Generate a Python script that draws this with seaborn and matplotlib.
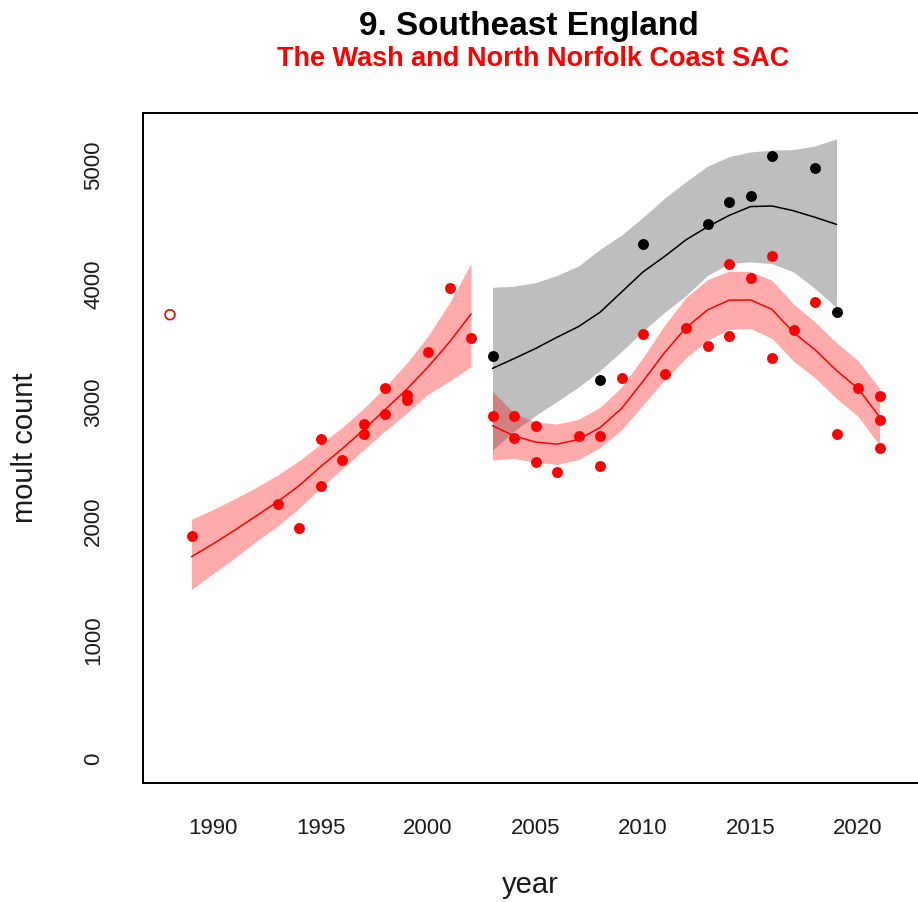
import matplotlib
matplotlib.use("Agg")
import matplotlib.pyplot as plt
import pandas as pd
import seaborn as sns

# Single early count shown as an open symbol
early_year = [1988]
early_count = [3740]

# Moult counts 1989-2002
p1_years = [1989, 1993, 1994, 1995, 1995, 1996, 1997, 1997, 1998, 1998,
            1999, 1999, 2000, 2001, 2002]
p1_counts = [1877, 2146, 1942, 2696, 2298, 2517, 2820, 2736, 3123, 2904,
             3067, 3022, 3426, 3965, 3544]

# Trend and 95% band, 1989-2002
fit1_years = [1989, 1990, 1991, 1992, 1993, 1994, 1995, 1996, 1997, 1998,
              1999, 2000, 2001, 2002]
fit1_mid = [1703, 1810, 1925, 2045, 2165, 2300, 2460, 2610, 2770, 2940,
            3110, 3300, 3510, 3746]
fit1_lo = [1428, 1560, 1690, 1830, 1960, 2110, 2280, 2440, 2600, 2760,
           2910, 3070, 3180, 3302]
fit1_hi = [2018, 2100, 2190, 2285, 2390, 2510, 2650, 2790, 2950, 3130,
           3330, 3560, 3840, 4172]

# Moult counts 2003-2021
p2_years = [2003, 2004, 2004, 2005, 2005, 2006, 2007, 2008, 2008, 2009,
            2010, 2011, 2012, 2013, 2014, 2014, 2015, 2016, 2016, 2017,
            2018, 2019, 2020, 2021, 2021, 2021]
p2_counts = [2887, 2887, 2699, 2803, 2497, 2416, 2719, 2719, 2464, 3207,
             3577, 3238, 3628, 3476, 4164, 3561, 4049, 4234, 3373, 3608,
             3847, 2736, 3123, 3056, 2854, 2615]

# Trend and 95% band, 2003-2021
fit2_years = [2003, 2004, 2005, 2006, 2007, 2008, 2009, 2010, 2011, 2012,
              2013, 2014, 2015, 2016, 2017, 2018, 2019, 2020, 2021]
fit2_mid = [2806, 2720, 2668, 2650, 2690, 2790, 2950, 3180, 3420, 3630,
            3780, 3862, 3864, 3785, 3590, 3445, 3270, 3120, 2880]
fit2_lo = [2516, 2530, 2498, 2480, 2520, 2620, 2770, 2980, 3190, 3375,
           3525, 3617, 3624, 3540, 3350, 3210, 3035, 2885, 2640]
fit2_hi = [3096, 2910, 2838, 2820, 2860, 2960, 3130, 3380, 3650, 3885,
           4035, 4107, 4104, 4030, 3830, 3680, 3505, 3355, 3120]

# Maximum counts (black) with trend and band
max_years = [2003, 2008, 2010, 2013, 2014, 2015, 2016, 2018, 2019]
max_counts = [3392, 3190, 4335, 4503, 4691, 4742, 5079, 4978, 3763]

fit3_years = [2003, 2004, 2005, 2006, 2007, 2008, 2009, 2010, 2011, 2012,
              2013, 2014, 2015, 2016, 2017, 2018, 2019]
fit3_mid = [3288, 3370, 3455, 3550, 3640, 3760, 3930, 4100, 4230, 4370,
            4480, 4575, 4650, 4655, 4615, 4560, 4500]
fit3_lo = [2600, 2760, 2890, 3010, 3130, 3270, 3430, 3600, 3760, 3900,
           4070, 4170, 4185, 4170, 4100, 3960, 3800]
fit3_hi = [3970, 3980, 4010, 4070, 4150, 4290, 4410, 4560, 4720, 4860,
           4990, 5070, 5110, 5125, 5130, 5160, 5220]

x_ticks = [1990, 1995, 2000, 2005, 2010, 2015, 2020]
y_ticks = [0, 1000, 2000, 3000, 4000, 5000]

sns.set_style("white")
plt.rcParams["font.family"] = ["Liberation Sans", "DejaVu Sans"]

W, H = 918, 902
fig = plt.figure(figsize=(W / 100, H / 100), dpi=100)
left_px, right_px, top_px, bottom_px = 143, 921, 113, 783
ax = fig.add_axes([left_px / W, 1 - bottom_px / H,
                   (right_px - left_px) / W, (bottom_px - top_px) / H])

px_per_year = 21.5
ax.set_xlim(1990 + (left_px - 213) / px_per_year,
            1990 + (right_px - 213) / px_per_year)
px_per_unit = 0.1188
ax.set_ylim(-(bottom_px - 759) / px_per_unit, (759 - top_px) / px_per_unit)

f1 = pd.DataFrame({"year": fit1_years, "mid": fit1_mid, "lo": fit1_lo, "hi": fit1_hi})
f2 = pd.DataFrame({"year": fit2_years, "mid": fit2_mid, "lo": fit2_lo, "hi": fit2_hi})
f3 = pd.DataFrame({"year": fit3_years, "mid": fit3_mid, "lo": fit3_lo, "hi": fit3_hi})

# grey band for maximum counts first, red bands blended on top
ax.fill_between(f3["year"], f3["lo"], f3["hi"], color="#BEBEBE", lw=0, zorder=1)
sns.lineplot(data=f3, x="year", y="mid", color="black", lw=1.1,
             estimator=None, sort=False, ax=ax, zorder=3)
ax.fill_between(f1["year"], f1["lo"], f1["hi"], color="red", alpha=0.33, lw=0, zorder=2)
ax.fill_between(f2["year"], f2["lo"], f2["hi"], color="red", alpha=0.33, lw=0, zorder=2)
sns.lineplot(data=f1, x="year", y="mid", color="red", lw=1.1,
             estimator=None, sort=False, ax=ax, zorder=3)
sns.lineplot(data=f2, x="year", y="mid", color="red", lw=1.1,
             estimator=None, sort=False, ax=ax, zorder=3)

sns.scatterplot(x=max_years, y=max_counts, color="black", s=62, linewidth=0,
                ax=ax, zorder=4)
sns.scatterplot(x=p1_years, y=p1_counts, color="red", s=62, linewidth=0,
                ax=ax, zorder=4)
sns.scatterplot(x=p2_years, y=p2_counts, color="red", s=62, linewidth=0,
                ax=ax, zorder=4)
sns.scatterplot(x=early_year, y=early_count, facecolor="none", edgecolor="red",
                s=50, linewidth=1.2, ax=ax, zorder=4)

ax.set_xticks(x_ticks)
ax.set_xticklabels([str(v) for v in x_ticks])
ax.set_yticks(y_ticks)
ax.set_yticklabels([str(v) for v in y_ticks], rotation=90, va="center")
ax.tick_params(axis="both", direction="out", length=11, width=1.2,
               color="black", labelsize=16, labelcolor="#1a1a1a")
ax.tick_params(axis="x", pad=14)
ax.tick_params(axis="y", pad=17)
for s in ax.spines.values():
    s.set_color("black")
    s.set_linewidth(1.4)

ax.set_xlabel("year", fontsize=21, color="#1a1a1a", va="center")
ax.xaxis.set_label_coords((530 - left_px) / (right_px - left_px),
                          (bottom_px - 885) / (bottom_px - top_px))
ax.set_ylabel("moult count", fontsize=21, color="#1a1a1a", va="center")
ax.yaxis.set_label_coords((25 - left_px) / (right_px - left_px), 0.5)

fig.text(529 / W, 1 - 26 / H, "9. Southeast England", ha="center", va="center",
         fontsize=24, fontweight="bold", color="black")
fig.text(533 / W, 1 - 59 / H, "The Wash and North Norfolk Coast SAC", ha="center",
         va="center", fontsize=19.5, fontweight="bold", color="red")

fig.savefig("out.png", dpi=100)
